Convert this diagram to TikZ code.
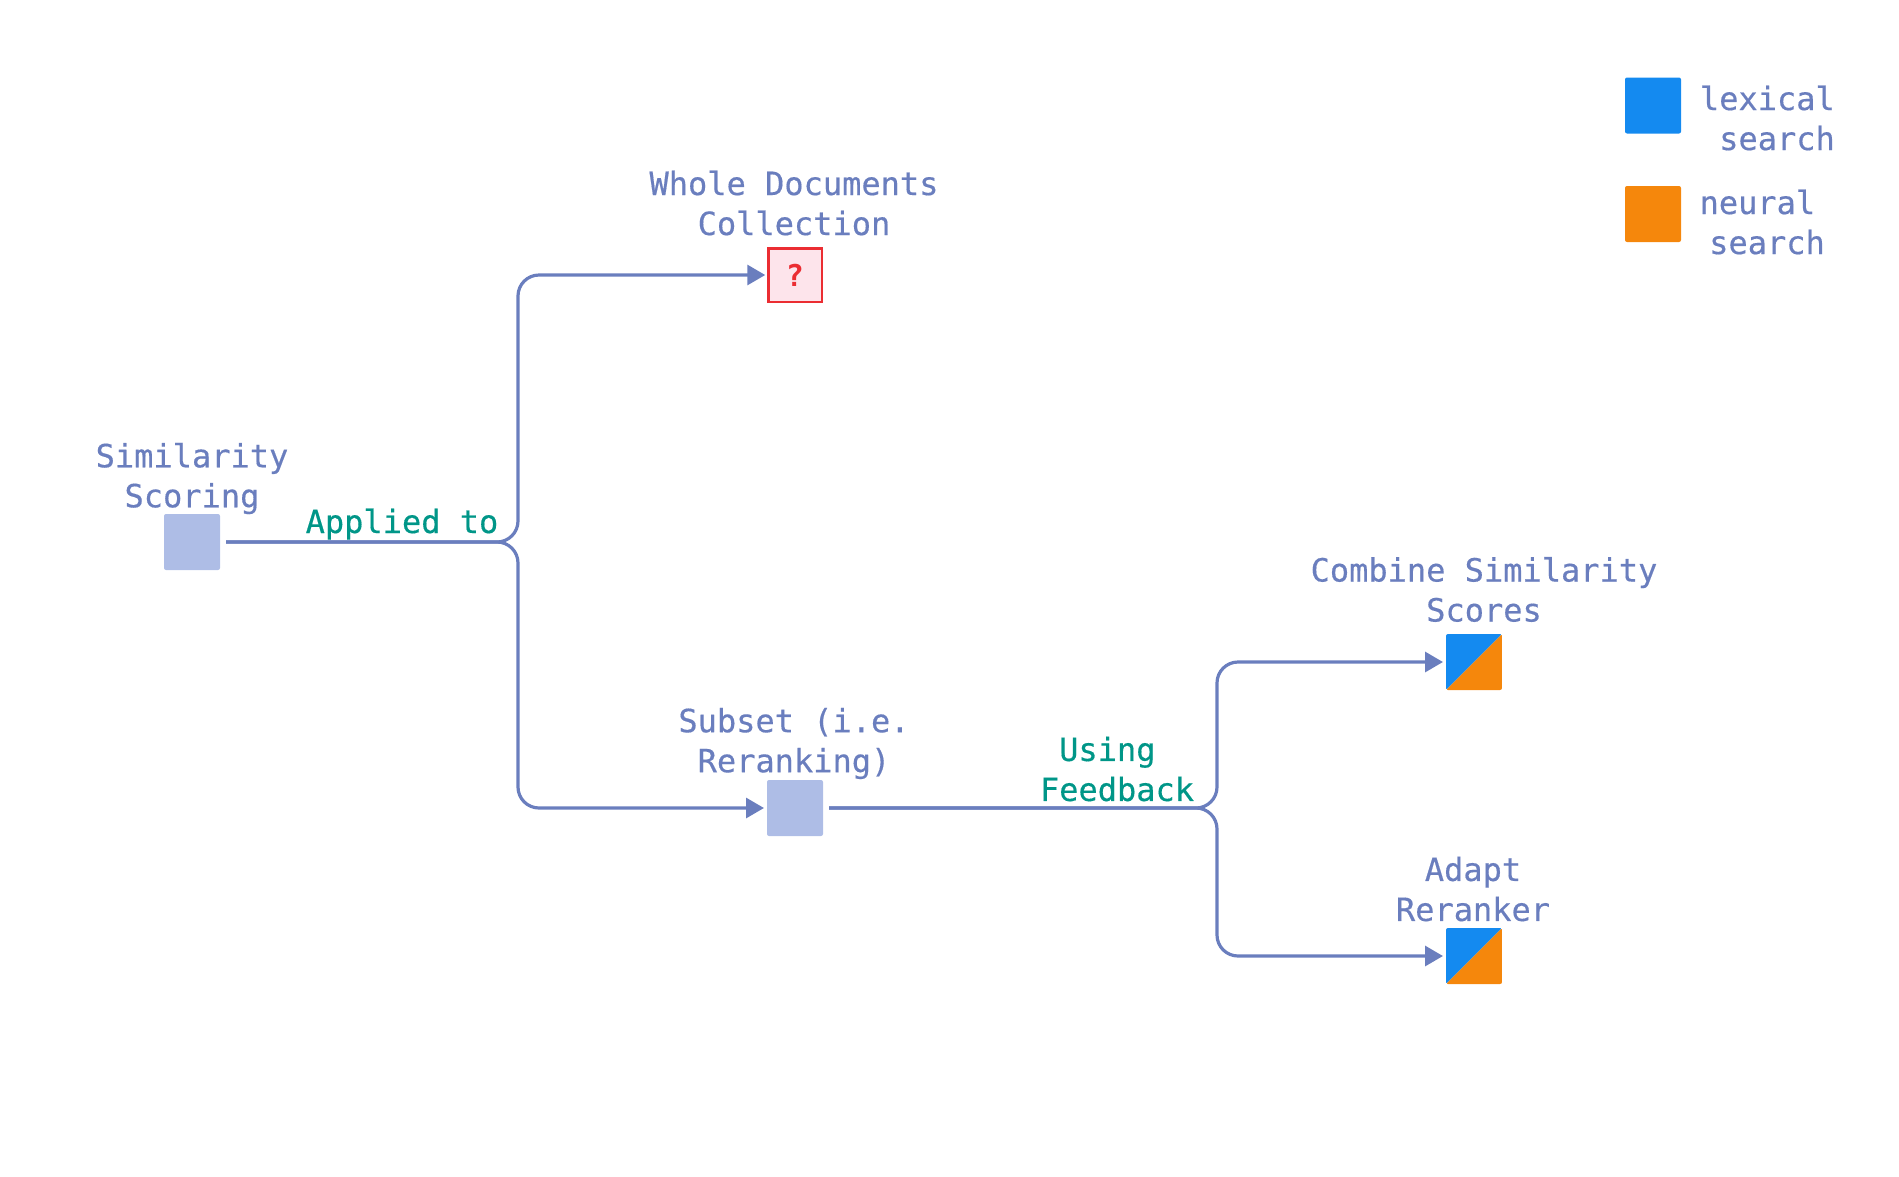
\documentclass[tikz,border=0pt]{standalone}
\usepackage{fontspec}
\newfontfamily\monofam[FakeBold=0.4]{DejaVu Sans Mono}
\newfontfamily\monobold{DejaVu Sans Mono Bold}
\usetikzlibrary{arrows.meta}
\definecolor{slate}{RGB}{106,126,190}
\definecolor{boxfill}{RGB}{174,189,230}
\definecolor{tealtxt}{RGB}{0,150,136}
\definecolor{qred}{RGB}{235,45,50}
\definecolor{qfill}{RGB}{253,228,235}
\definecolor{lexblue}{RGB}{20,138,240}
\definecolor{neuorange}{RGB}{245,135,12}
\tikzset{
  lbl/.style={font=\monofam\fontsize{32}{40}\selectfont, text=slate, align=center, inner sep=0pt},
  edgelbl/.style={font=\monofam\fontsize{32}{40}\selectfont, text=tealtxt, align=center, inner sep=0pt},
  sq/.style={minimum size=56pt, inner sep=0pt, outer sep=3pt, rounded corners=2pt},
  plainbox/.style={sq, fill=boxfill},
  qbox/.style={sq, rounded corners=0pt, draw=qred, line width=2.5pt, fill=qfill, minimum size=53.5pt, text=qred, font=\monobold\fontsize{30}{30}\selectfont},
  splitbox/.style={sq, path picture={
     \fill[lexblue] (path picture bounding box.south west) -- (path picture bounding box.north west) -- (path picture bounding box.north east) -- cycle;
     \fill[neuorange] (path picture bounding box.south west) -- (path picture bounding box.north east) -- (path picture bounding box.south east) -- cycle;}},
  conn/.style={draw=slate, line width=3.2pt, rounded corners=21pt, shorten <=3pt},
  arr/.style={conn, -{Triangle[length=18pt,width=20pt]}}
}
\begin{document}
\begin{tikzpicture}[x=1pt,y=-1pt]
\useasboundingbox (0,0) rectangle (1899,1176);
% nodes
\node[plainbox] (sim) at (192,542) {};
\node[lbl] (simlbl) at (192,478.5) {Similarity\\Scoring};
\node[qbox] (whole) at (795,275) {?};
\node[lbl] (wholelbl) at (794,203) {Whole Documents\\Collection};
\node[plainbox] (sub) at (795,808) {};
\node[lbl] (sublbl) at (794,743.5) {Subset (i.e.\\Reranking)};
\node[splitbox] (comb) at (1474,662) {};
\node[lbl] (comblbl) at (1484,589.5) {Combine Similarity\\Scores};
\node[splitbox] (adapt) at (1474,956) {};
\node[lbl] (adaptlbl) at (1473,889) {Adapt\\Reranker};
% legend
\node[sq, fill=lexblue] (leglex) at (1653,105.5) {};
\node[lbl] (leglexlbl) at (1777,118) {lexical\phantom{x}\\search};
\node[sq, fill=neuorange] (legneu) at (1653,214) {};
\node[lbl] (legneulbl) at (1767,222) {neural\phantom{x}\\search};
% forks
\coordinate (f1) at (518,542);
\coordinate (f2) at (1217,808);
\draw[arr] (sim.east) -- (f1) |- (whole.west);
\draw[arr] (sim.east) -- (f1) |- (sub.west);
\draw[arr] (sub.east) -- (f2) |- (comb.west);
\draw[arr] (sub.east) -- (f2) |- (adapt.west);
% edge labels
\node[edgelbl, anchor=base] (applied) at (402,533) {Applied to};
\node[edgelbl] (using) at (1117,769) {Using\phantom{x}\\Feedback};
\end{tikzpicture}
\end{document}
